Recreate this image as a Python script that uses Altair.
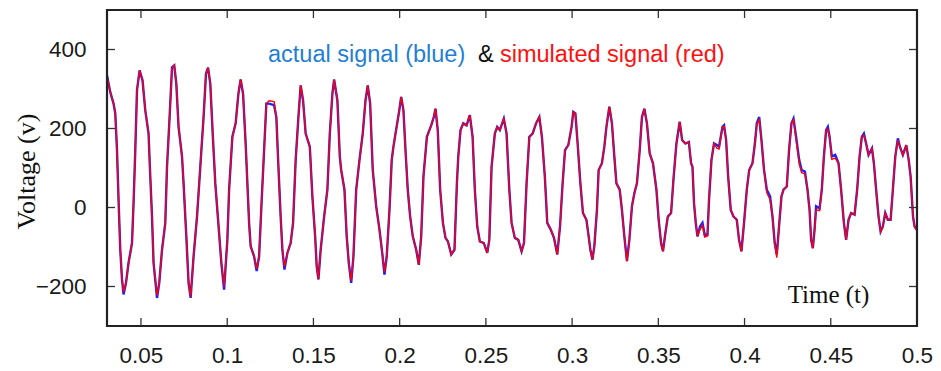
import altair as alt
import pandas as pd

# time axis (s)
time_s = [
    0.0303, 0.0322, 0.0341, 0.0351, 0.0361, 0.0370, 0.0380, 0.0390, 0.0399, 0.0413, 0.0428, 0.0448, 0.0457, 0.0467, 0.0477, 0.0492,
    0.0509, 0.0525, 0.0544, 0.0554, 0.0564, 0.0573, 0.0593, 0.0606, 0.0622, 0.0641, 0.0651, 0.0666, 0.0680, 0.0693, 0.0705, 0.0718,
    0.0738, 0.0747, 0.0763, 0.0776, 0.0788, 0.0805, 0.0825, 0.0844, 0.0863, 0.0877, 0.0889, 0.0902, 0.0916, 0.0931, 0.0950, 0.0966,
    0.0982, 0.1001, 0.1011, 0.1030, 0.1049, 0.1065, 0.1078, 0.1092, 0.1107, 0.1117, 0.1127, 0.1136, 0.1156, 0.1171, 0.1185, 0.1200,
    0.1214, 0.1227, 0.1243, 0.1272, 0.1285, 0.1297, 0.1310, 0.1320, 0.1332, 0.1349, 0.1368, 0.1382, 0.1397, 0.1413, 0.1426, 0.1440,
    0.1455, 0.1479, 0.1494, 0.1510, 0.1519, 0.1529, 0.1542, 0.1562, 0.1581, 0.1595, 0.1610, 0.1620, 0.1639, 0.1653, 0.1661, 0.1680,
    0.1693, 0.1705, 0.1719, 0.1732, 0.1748, 0.1767, 0.1786, 0.1802, 0.1815, 0.1829, 0.1844, 0.1864, 0.1883, 0.1899, 0.1912, 0.1925,
    0.1941, 0.1954, 0.1964, 0.1976, 0.1995, 0.2009, 0.2022, 0.2034, 0.2047, 0.2061, 0.2076, 0.2096, 0.2111, 0.2125, 0.2138, 0.2158,
    0.2183, 0.2198, 0.2208, 0.2221, 0.2235, 0.2251, 0.2266, 0.2280, 0.2299, 0.2318, 0.2332, 0.2340, 0.2353, 0.2369, 0.2388, 0.2407,
    0.2423, 0.2436, 0.2450, 0.2465, 0.2488, 0.2508, 0.2520, 0.2533, 0.2552, 0.2566, 0.2581, 0.2604, 0.2620, 0.2636, 0.2649, 0.2668,
    0.2688, 0.2707, 0.2721, 0.2736, 0.2752, 0.2771, 0.2791, 0.2810, 0.2825, 0.2842, 0.2856, 0.2876, 0.2895, 0.2914, 0.2930, 0.2945,
    0.2959, 0.2978, 0.2997, 0.3007, 0.3019, 0.3032, 0.3048, 0.3063, 0.3083, 0.3096, 0.3106, 0.3118, 0.3129, 0.3144, 0.3154, 0.3173,
    0.3187, 0.3199, 0.3216, 0.3231, 0.3245, 0.3257, 0.3276, 0.3289, 0.3303, 0.3318, 0.3332, 0.3347, 0.3361, 0.3376, 0.3392, 0.3405,
    0.3419, 0.3434, 0.3450, 0.3469, 0.3489, 0.3502, 0.3516, 0.3527, 0.3541, 0.3555, 0.3574, 0.3589, 0.3605, 0.3624, 0.3638, 0.3657,
    0.3677, 0.3690, 0.3698, 0.3707, 0.3717, 0.3727, 0.3742, 0.3756, 0.3769, 0.3785, 0.3794, 0.3808, 0.3823, 0.3839, 0.3852, 0.3872,
    0.3881, 0.3893, 0.3905, 0.3920, 0.3936, 0.3955, 0.3968, 0.3982, 0.3997, 0.4013, 0.4027, 0.4046, 0.4060, 0.4071, 0.4085, 0.4098,
    0.4113, 0.4129, 0.4148, 0.4162, 0.4175, 0.4187, 0.4200, 0.4214, 0.4226, 0.4245, 0.4258, 0.4272, 0.4284, 0.4299, 0.4317, 0.4331,
    0.4350, 0.4365, 0.4377, 0.4386, 0.4396, 0.4406, 0.4415, 0.4435, 0.4448, 0.4460, 0.4473, 0.4483, 0.4493, 0.4506, 0.4526, 0.4545,
    0.4560, 0.4576, 0.4589, 0.4603, 0.4618, 0.4638, 0.4653, 0.4667, 0.4680, 0.4692, 0.4705, 0.4719, 0.4739, 0.4750, 0.4763, 0.4777,
    0.4789, 0.4802, 0.4816, 0.4831, 0.4847, 0.4860, 0.4874, 0.4889, 0.4901, 0.4918, 0.4938, 0.4952, 0.4963, 0.4977, 0.4986, 0.4998,
]

# actual signal (blue), volts
actual_v = [
    334, 292, 263, 238, 145, 19, -107, -182, -220, -191, -140, -90, 11, 145, 297, 347,
    322, 246, 187, 78, -23, -140, -229, -191, -107, -39, 103, 229, 355, 360, 313, 204,
    129, 61, -73, -191, -229, -124, -23, 103, 229, 339, 354, 313, 187, 61, -48, -140,
    -208, -82, 45, 179, 213, 288, 324, 288, 162, 61, -39, -98, -124, -161, -124, 19,
    145, 263, 263, 259, 229, 103, -23, -107, -157, -115, -90, -39, 120, 229, 309, 271,
    187, 154, 28, -73, -149, -182, -107, -23, 45, 187, 288, 324, 271, 129, 95, 45,
    -73, -140, -191, -124, 45, 120, 187, 271, 309, 263, 95, 3, -56, -115, -170, -124,
    -6, 120, 154, 187, 238, 280, 246, 145, 45, -23, -73, -107, -145, -73, 78, 179,
    208, 229, 250, 196, 45, -39, -77, -86, -119, -107, 61, 129, 196, 213, 208, 234,
    179, 45, -48, -86, -90, -115, -82, 103, 187, 204, 196, 225, 187, 45, -39, -77,
    -82, -111, -90, 61, 179, 187, 213, 229, 179, 78, -39, -56, -77, -119, -48, 61,
    145, 158, 204, 242, 238, 162, 61, -14, -31, -73, -107, -132, -98, -6, 95, 112,
    154, 204, 255, 213, 129, 61, 45, -6, -73, -136, -82, 3, 36, 61, 145, 229,
    250, 213, 137, 112, 45, -31, -90, -111, -65, -23, -14, 78, 162, 217, 171, 162,
    166, 112, 103, 11, -39, -73, -48, -39, -69, -69, 19, 120, 162, 158, 154, 204,
    208, 171, 78, -6, -23, -31, -82, -111, -39, 45, 95, 112, 162, 213, 229, 171,
    95, 45, 28, -23, -90, -119, -48, 28, 45, 53, 145, 213, 225, 179, 120, 95,
    91, 45, -6, -82, -103, -56, 3, -2, 45, 129, 196, 204, 179, 129, 133, 112,
    45, -39, -82, -31, -14, -18, 45, 129, 179, 187, 162, 133, 150, 112, 45, -23,
    -61, -48, -14, -31, -31, 45, 129, 175, 154, 133, 158, 120, 78, -23, -48, -56,
]

# simulated signal (red), volts
simulated_v = [
    334, 292, 263, 238, 145, 19, -107, -182, -214, -191, -140, -90, 11, 145, 297, 347,
    322, 246, 187, 78, -23, -140, -222, -191, -107, -39, 103, 229, 355, 360, 313, 204,
    129, 61, -73, -191, -226, -124, -23, 103, 229, 339, 354, 313, 187, 61, -48, -140,
    -200, -82, 45, 179, 213, 288, 324, 288, 162, 61, -39, -98, -124, -155, -124, 19,
    145, 263, 270, 268, 229, 103, -23, -107, -150, -115, -90, -39, 120, 229, 309, 271,
    187, 154, 28, -73, -149, -182, -107, -23, 45, 187, 288, 324, 271, 129, 95, 45,
    -73, -140, -185, -124, 45, 120, 187, 271, 309, 263, 95, 3, -56, -115, -163, -124,
    -6, 120, 154, 187, 238, 280, 246, 145, 45, -23, -73, -107, -145, -73, 78, 179,
    208, 229, 250, 196, 45, -39, -77, -86, -119, -107, 61, 129, 196, 213, 208, 234,
    179, 45, -48, -86, -90, -115, -82, 103, 187, 204, 196, 225, 187, 45, -39, -77,
    -82, -111, -90, 61, 179, 187, 213, 229, 179, 78, -39, -56, -77, -119, -48, 61,
    145, 158, 204, 242, 238, 162, 61, -14, -31, -73, -107, -132, -98, -6, 95, 112,
    154, 204, 255, 213, 129, 61, 45, -6, -73, -136, -82, 3, 36, 61, 145, 229,
    250, 213, 137, 112, 45, -31, -90, -111, -65, -23, -14, 78, 162, 217, 171, 162,
    166, 112, 103, 11, -39, -73, -55, -45, -75, -72, 19, 120, 162, 150, 148, 204,
    205, 171, 78, -6, -23, -31, -82, -111, -39, 45, 95, 112, 162, 210, 222, 171,
    95, 38, 20, -23, -90, -127, -48, 28, 45, 53, 145, 213, 222, 172, 110, 88,
    85, 45, -6, -82, -103, -56, -6, -8, 45, 129, 196, 198, 179, 122, 125, 112,
    45, -39, -82, -31, -14, -18, 45, 129, 179, 182, 162, 133, 150, 112, 45, -23,
    -61, -48, -14, -31, -31, 45, 129, 170, 154, 133, 158, 120, 78, -23, -48, -56,
]

x_ticks = [0.05, 0.1, 0.15, 0.2, 0.25, 0.3, 0.35, 0.4, 0.45, 0.5]
y_ticks = [-200, 0, 200, 400]

W, H = 810, 316
X_DOMAIN = [0.0303, 0.5]
Y_DOMAIN = [-300, 500]

df = pd.DataFrame({"t": time_s, "actual": actual_v, "simulated": simulated_v})
xt = pd.DataFrame({"tick": x_ticks})
yt = pd.DataFrame({"tick": y_ticks})

xscale = alt.Scale(domain=X_DOMAIN, nice=False, zero=False)
yscale = alt.Scale(domain=Y_DOMAIN, nice=False, zero=False)

x_axis = alt.Axis(
    values=x_ticks, format="~g", labelFont="Liberation Sans", labelFontSize=22.5,
    labelColor="#1a1a1a", labelPadding=18, ticks=False, tickSize=0, domain=False, grid=False,
    labelFlush=False, labelOverlap=False,
    title="Time (t)", titleFont="Liberation Serif", titleFontSize=25, titleFontWeight="normal",
    titleColor="#111", titleX=721, titleY=-24, titleAlign="center", titleBaseline="alphabetic",
)
y_axis = alt.Axis(
    values=y_ticks, labelFont="Liberation Sans", labelFontSize=22.5, labelColor="#1a1a1a",
    labelPadding=21, ticks=False, tickSize=0, domain=False, grid=False,
    title="Voltage (v)", titleFont="Liberation Serif", titleFontSize=26, titleFontWeight="normal",
    titleColor="#111", titleAngle=270, titleX=-81, titleY=161, titleAlign="center",
    titleBaseline="middle",
)

base = alt.Chart(df)
blue = base.mark_line(color="#2020ff", strokeWidth=2.4, clip=True).encode(
    x=alt.X("t:Q", scale=xscale, axis=x_axis),
    y=alt.Y("actual:Q", scale=yscale, axis=y_axis),
)
red = base.mark_line(color="#ff0000", strokeWidth=1.4, clip=True).encode(
    x=alt.X("t:Q", scale=xscale),
    y=alt.Y("simulated:Q", scale=yscale),
)

TICK = 8
tick_style = dict(color="#333", strokeWidth=1.3)
xt_bottom = alt.Chart(xt).mark_rule(**tick_style).encode(
    x=alt.X("tick:Q", scale=xscale), y=alt.value(H), y2=alt.value(H - TICK))
xt_top = alt.Chart(xt).mark_rule(**tick_style).encode(
    x=alt.X("tick:Q", scale=xscale), y=alt.value(0), y2=alt.value(TICK))
yt_left = alt.Chart(yt).mark_rule(**tick_style).encode(
    y=alt.Y("tick:Q", scale=yscale), x=alt.value(0), x2=alt.value(TICK))
yt_right = alt.Chart(yt).mark_rule(**tick_style).encode(
    y=alt.Y("tick:Q", scale=yscale), x=alt.value(W), x2=alt.value(W - TICK))

# plot frame as an unfilled rectangle
frame_df = pd.DataFrame({"edge": ["frame"]})
frame = alt.Chart(frame_df).mark_rect(
    filled=False, stroke="#222", strokeWidth=2.2, fillOpacity=0
).encode(x=alt.value(0), x2=alt.value(W), y=alt.value(0), y2=alt.value(H))

def label(text, xpos, color):
    return alt.Chart(pd.DataFrame({"label": [text]})).mark_text(
        font="Liberation Sans", fontSize=23.5, align="left", baseline="alphabetic", color=color
    ).encode(x=alt.value(xpos), y=alt.value(52), text="label:N")

leg1 = label("actual signal (blue)", 161, "#1f7fd4")
leg2 = label("&", 371, "#111111")
leg3 = label("simulated signal (red)", 393, "#ff1010")

chart = alt.layer(
    blue, red, xt_bottom, xt_top, yt_left, yt_right, frame, leg1, leg2, leg3
).resolve_scale(x="shared", y="shared").properties(
    width=W, height=H,
    padding={"left": 107, "top": 10, "right": 24, "bottom": 45},
    autosize=alt.AutoSizeParams(type="none"),
    background="white",
).configure_view(stroke="#222", strokeWidth=2)

chart.save("out.html", embed_options={"renderer": "svg", "actions": False})
